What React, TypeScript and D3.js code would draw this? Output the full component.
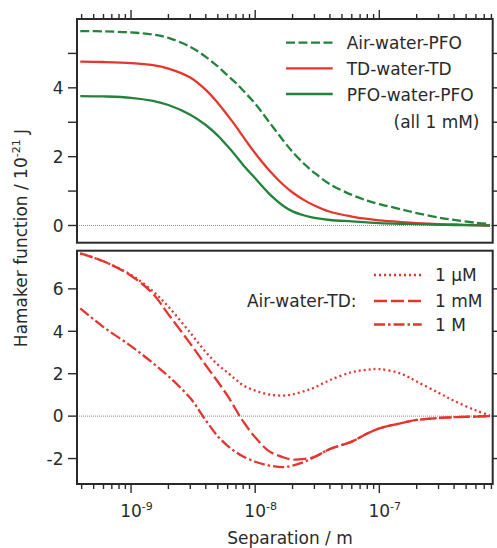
import React from 'react';
import * as d3 from 'd3';

// Separation (m)
const separation = [3.9e-10, 6e-10, 1e-9, 1.5e-9, 2e-9, 3e-9, 4e-9, 5e-9, 6e-9, 7e-9, 8e-9, 1e-8, 1.3e-8, 1.7e-8, 2e-8, 2.5e-8, 3e-8, 4e-8, 6e-8, 8e-8, 1e-7, 1.5e-7, 2e-7, 3e-7, 4e-7, 6e-7, 7.8e-7];

// Top panel (all 1 mM)
const airWaterPFO = [5.65, 5.64, 5.61, 5.55, 5.45, 5.19, 4.9, 4.62, 4.36, 4.14, 3.92, 3.54, 3.0, 2.45, 2.14, 1.78, 1.53, 1.2, 0.89, 0.72, 0.62, 0.47, 0.36, 0.23, 0.16, 0.08, 0.04];
const tdWaterTD = [4.76, 4.75, 4.72, 4.66, 4.56, 4.3, 3.94, 3.56, 3.2, 2.88, 2.58, 2.1, 1.6, 1.17, 0.96, 0.73, 0.58, 0.4, 0.26, 0.19, 0.15, 0.1, 0.07, 0.04, 0.03, 0.01, 0.0];
const pfoWaterPFO = [3.76, 3.75, 3.71, 3.62, 3.5, 3.22, 2.92, 2.61, 2.3, 2.02, 1.76, 1.37, 0.92, 0.56, 0.41, 0.29, 0.22, 0.16, 0.12, 0.09, 0.07, 0.05, 0.04, 0.02, 0.015, 0.005, 0.0];

// Bottom panel (Air-water-TD)
const td1uM = [7.67, 7.3, 6.66, 5.89, 5.16, 3.93, 3.02, 2.43, 2.05, 1.72, 1.45, 1.2, 1.02, 0.97, 1.03, 1.18, 1.35, 1.7, 2.07, 2.19, 2.22, 2.0, 1.63, 1.1, 0.72, 0.27, 0.03];
const td1mM = [7.67, 7.3, 6.62, 5.77, 4.8, 3.42, 2.4, 1.62, 0.95, 0.3, -0.25, -1.0, -1.66, -1.95, -2.05, -2.02, -1.92, -1.55, -1.2, -0.82, -0.58, -0.33, -0.18, -0.09, -0.05, -0.02, 0.0];
const td1M = [5.08, 4.2, 3.3, 2.5, 1.88, 0.85, -0.2, -0.95, -1.4, -1.7, -1.9, -2.15, -2.33, -2.4, -2.33, -2.15, -1.93, -1.55, -1.2, -0.82, -0.58, -0.33, -0.18, -0.09, -0.05, -0.02, 0.0];

const xMajor = [1e-9, 1e-8, 1e-7];
const xMajorExp = ['-9', '-8', '-7'];
const topYMajor = [0, 2, 4];
const topYMinor = [1, 3, 5];
const botYMajor = [-2, 0, 2, 4, 6];

const topLegend = ['Air-water-PFO', 'TD-water-TD', 'PFO-water-PFO'];
const botLegend = ['1 \u00B5M', '1 mM', '1 M'];

const RED = '#e5352f';
const GREEN = '#23823c';
const INK = '#2a2a2a';
const FONT = 'DejaVu Sans';

export default function App() {
  const L = 77, R = 492.7;
  const topT = 19, topB = 242.7;
  const botT = 250.7, botB = 484;

  const x = d3.scaleLog().domain([3.67e-10, 8.19e-7]).range([L, R]);
  const yTop = d3.scaleLinear().domain([-0.5, 6]).range([topB, topT]);
  const yBot = d3.scaleLinear().domain([-3.2, 7.8]).range([botB, botT]);

  const minorTicks: number[] = [];
  for (let e = -10; e <= -7; e++) {
    for (let m = 2; m <= 9; m++) {
      const v = m * Math.pow(10, e);
      if (v >= 3.67e-10 && v <= 8.19e-7) minorTicks.push(v);
    }
  }

  const mk = (ys: number[], yS: d3.ScaleLinear<number, number>) =>
    d3.line<number>()
      .x((_, i) => x(separation[i]))
      .y((d) => yS(d))
      .curve(d3.curveCatmullRom.alpha(0.5))(ys) || '';

  const topSeries = [
    { data: airWaterPFO, color: GREEN, dash: '9,3.5' },
    { data: tdWaterTD, color: RED, dash: '' },
    { data: pfoWaterPFO, color: GREEN, dash: '' },
  ];
  const botSeries = [
    { data: td1uM, color: RED, dash: '2,3' },
    { data: td1mM, color: RED, dash: '13,4' },
    { data: td1M, color: RED, dash: '11,3,2.5,3' },
  ];

  const topLegendY = [42.7, 68.3, 94];
  const botLegendY = [275, 301, 324.5];

  return (
    <svg width={497} height={548} style={{ position: 'absolute', left: 0, top: 0 }}
      fontFamily={FONT} fill={INK}>
      <rect x={0} y={0} width={497} height={548} fill="#fff" />
      <line x1={L} x2={R} y1={yTop(0)} y2={yTop(0)} stroke="#8a8a8a" strokeWidth={1} strokeDasharray="1,1" />
      <line x1={L} x2={R} y1={yBot(0)} y2={yBot(0)} stroke="#8a8a8a" strokeWidth={1} strokeDasharray="1,1" />

      {topSeries.map((s, i) => (
        <path key={'t' + i} d={mk(s.data, yTop)} fill="none" stroke={s.color} strokeWidth={2.3}
          strokeDasharray={s.dash || undefined} />
      ))}
      {botSeries.map((s, i) => (
        <path key={'b' + i} d={mk(s.data, yBot)} fill="none" stroke={s.color} strokeWidth={2.3}
          strokeDasharray={s.dash || undefined} />
      ))}

      <rect x={L} y={topT} width={R - L} height={topB - topT} fill="none" stroke={INK} strokeWidth={2} />
      <rect x={L} y={botT} width={R - L} height={botB - botT} fill="none" stroke={INK} strokeWidth={2} />

      {xMajor.map((v) => (
        <line key={'tM' + v} x1={x(v)} x2={x(v)} y1={topT} y2={topT - 9} stroke={INK} strokeWidth={1.4} />
      ))}
      {minorTicks.map((v) => (
        <line key={'tm' + v} x1={x(v)} x2={x(v)} y1={topT} y2={topT - 5} stroke={INK} strokeWidth={1.4} />
      ))}
      {xMajor.map((v) => (
        <line key={'bM' + v} x1={x(v)} x2={x(v)} y1={botB} y2={botB + 9} stroke={INK} strokeWidth={1.4} />
      ))}
      {minorTicks.map((v) => (
        <line key={'bm' + v} x1={x(v)} x2={x(v)} y1={botB} y2={botB + 5} stroke={INK} strokeWidth={1.4} />
      ))}
      {xMajor.map((v, i) => (
        <g key={'xl' + v}>
          <text x={x(v)} y={516.5} fontSize={17} textAnchor="middle">10</text>
          <text x={x(v) + 10.8} y={509.5} fontSize={11}>{xMajorExp[i]}</text>
        </g>
      ))}

      {[...topYMajor, ...topYMinor].map((v) => (
        <g key={'ty' + v}>
          <line x1={L} x2={L - 9} y1={yTop(v)} y2={yTop(v)} stroke={INK} strokeWidth={1.4} />
          <line x1={R} x2={R + 9} y1={yTop(v)} y2={yTop(v)} stroke={INK} strokeWidth={1.4} />
        </g>
      ))}
      {topYMajor.map((v) => (
        <text key={'tyl' + v} x={63.5} y={yTop(v) + 6.3} fontSize={17} textAnchor="end">{v}</text>
      ))}
      {botYMajor.map((v) => (
        <g key={'by' + v}>
          <line x1={L} x2={L - 9} y1={yBot(v)} y2={yBot(v)} stroke={INK} strokeWidth={1.4} />
          <line x1={R} x2={R + 9} y1={yBot(v)} y2={yBot(v)} stroke={INK} strokeWidth={1.4} />
          <text x={63.5} y={yBot(v) + 6.3} fontSize={17} textAnchor="end">{v}</text>
        </g>
      ))}

      <text transform={`translate(26.5,238) rotate(-90)`} fontSize={17} textAnchor="middle">
        Hamaker function / 10<tspan fontSize={11} dy={-7}>-21</tspan><tspan dy={7}> J</tspan>
      </text>
      <text x={290} y={544} fontSize={17} textAnchor="middle">Separation / m</text>

      {topSeries.map((s, i) => (
        <g key={'tl' + i}>
          <line x1={286} x2={332.7} y1={topLegendY[i]} y2={topLegendY[i]} stroke={s.color}
            strokeWidth={2.3} strokeDasharray={s.dash || undefined} />
          <text x={346.7} y={topLegendY[i] + 6.5} fontSize={17}>{topLegend[i]}</text>
        </g>
      ))}
      <text x={479.5} y={127.7} fontSize={17} textAnchor="end">(all 1 mM)</text>

      <text x={356.5} y={307.3} fontSize={17} textAnchor="end">Air-water-TD:</text>
      {botSeries.map((s, i) => (
        <g key={'bl' + i}>
          <line x1={374} x2={421.7} y1={botLegendY[i]} y2={botLegendY[i]} stroke={s.color}
            strokeWidth={2.3} strokeDasharray={s.dash || undefined} />
          <text x={435} y={botLegendY[i] + 6.3} fontSize={17}>{botLegend[i]}</text>
        </g>
      ))}
    </svg>
  );
}
